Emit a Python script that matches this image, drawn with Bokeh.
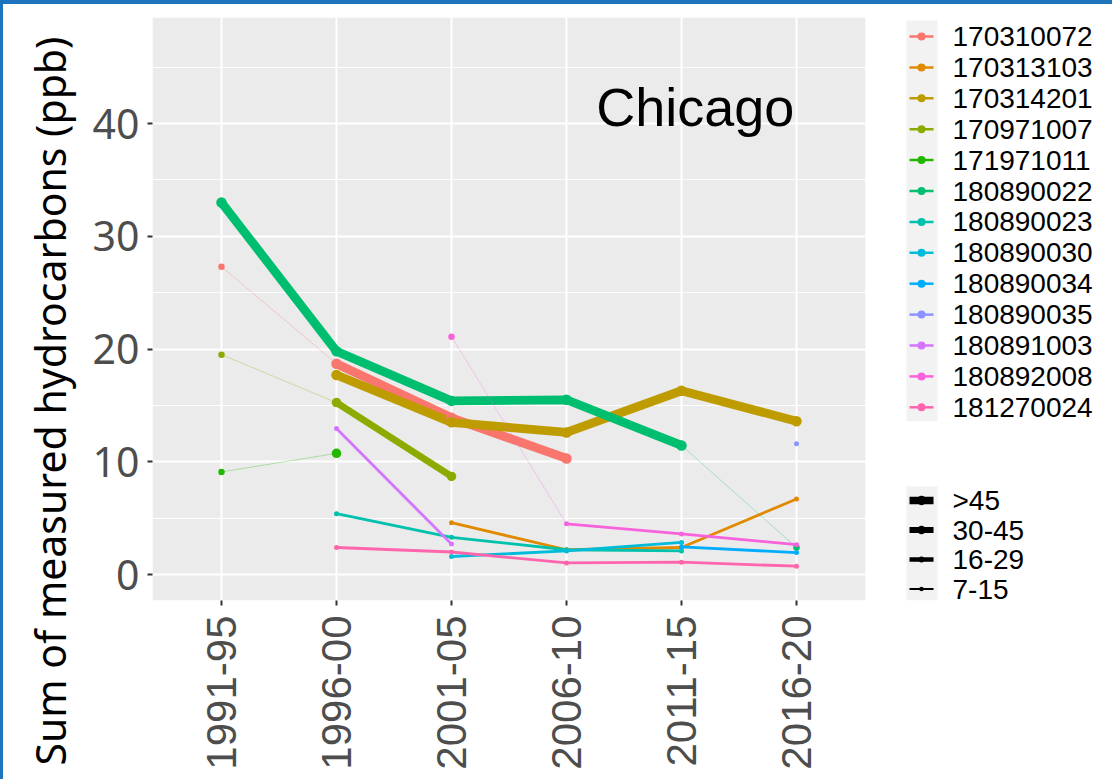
import math
from bokeh.plotting import figure
from bokeh.models import (Range1d, FixedTicker, SingleIntervalTicker,
                          ColumnDataSource, Title)
from bokeh.core.properties import value
from bokeh.embed import file_html
from bokeh.resources import INLINE

nan = float("nan")

# ---- data -------------------------------------------------------------
periods = ["1991-95", "1996-00", "2001-05", "2006-10", "2011-15", "2016-20"]

sites = ["170310072", "170313103", "170314201", "170971007", "171971011",
         "180890022", "180890023", "180890030", "180890034", "180890035",
         "180891003", "180892008", "181270024"]

# sum of measured hydrocarbons (ppb), one value per period
hc_170310072 = [27.3, 18.7, 13.9, 10.3, nan, nan]
hc_170313103 = [nan, nan, 4.6, 2.2, 2.4, 6.7]
hc_170314201 = [nan, 17.7, 13.5, 12.6, 16.3, 13.6]
hc_170971007 = [19.5, 15.25, 8.7, nan, nan, nan]
hc_171971011 = [9.1, 10.75, nan, nan, nan, nan]
hc_180890022 = [33.0, 19.8, 15.4, 15.5, 11.45, 2.4]
hc_180890023 = [nan, 5.4, 3.3, 2.2, 2.1, nan]
hc_180890030 = [nan, nan, 1.6, 2.1, 2.85, nan]
hc_180890034 = [nan, nan, nan, nan, 2.45, 1.95]
hc_180890035 = [nan, nan, nan, nan, nan, 11.6]
hc_180891003 = [nan, 12.95, 2.7, nan, nan, nan]
hc_180892008 = [nan, nan, 21.1, 4.5, 3.6, 2.65]
hc_181270024 = [nan, 2.4, 2.0, 1.03, 1.1, 0.74]

# number of samples per period (binned)
ns_170310072 = ["<7", ">45", ">45", ">45", None, None]
ns_170313103 = [None, None, "7-15", "7-15", "7-15", "7-15"]
ns_170314201 = [None, ">45", ">45", ">45", ">45", ">45"]
ns_170971007 = ["<7", "30-45", "30-45", None, None, None]
ns_171971011 = ["<7", "30-45", None, None, None, None]
ns_180890022 = [">45", ">45", ">45", ">45", ">45", "<7"]
ns_180890023 = [None, "7-15", "7-15", "7-15", "7-15", None]
ns_180890030 = [None, None, "7-15", "7-15", "7-15", None]
ns_180890034 = [None, None, None, None, "7-15", "7-15"]
ns_180890035 = [None, None, None, None, None, "7-15"]
ns_180891003 = [None, "7-15", "7-15", None, None, None]
ns_180892008 = [None, None, "<7", "7-15", "7-15", "7-15"]
ns_181270024 = [None, "7-15", "7-15", "7-15", "7-15", "7-15"]

size_bins = [">45", "30-45", "16-29", "7-15"]

hc = [hc_170310072, hc_170313103, hc_170314201, hc_170971007, hc_171971011,
      hc_180890022, hc_180890023, hc_180890030, hc_180890034, hc_180890035,
      hc_180891003, hc_180892008, hc_181270024]
ns = [ns_170310072, ns_170313103, ns_170314201, ns_170971007, ns_171971011,
      ns_180890022, ns_180890023, ns_180890030, ns_180890034, ns_180890035,
      ns_180891003, ns_180892008, ns_181270024]

# ---- styles -----------------------------------------------------------
colors = ["#F8766D", "#E18A00", "#BE9C00", "#8CAB00", "#24B700", "#00BE70",
          "#00C1AB", "#00BBDA", "#00ACFC", "#8B93FF", "#D575FE", "#F962DD",
          "#FF65AC"]
RANK = {"<7": 0, "7-15": 1, "16-29": 2, "30-45": 3, ">45": 4}
LINE_W = {"<7": 1.0, "7-15": 2.8, "16-29": 4.5, "30-45": 6.8, ">45": 8.8}
LINE_A = {"<7": 0.3, "7-15": 1.0, "16-29": 1.0, "30-45": 1.0, ">45": 1.0}
PT_SIZE = {"<7": 6.5, "7-15": 5.0, "16-29": 6.5, "30-45": 9.5, ">45": 10.5}
KEY_W = {">45": 7.5, "30-45": 5.8, "16-29": 4.4, "7-15": 2.2}

TXT = "Liberation Sans"
BLUE = "#1C75BC"

# page layout (pixels): plotting panel and the legend column to its right
PANEL_L, PANEL_R, PANEL_T, PANEL_B = 152, 865, 17, 600
PAGE_R = 1115
X0, X1 = -0.6, len(periods) - 0.4        # panel x extent (period index)
Y0, Y1 = -2.3, 49.4                       # panel y extent (ppb)
x_end = X0 + (X1 - X0) * (PAGE_R - PANEL_L) / (PANEL_R - PANEL_L)

# ---- figure -----------------------------------------------------------
# the frame runs to the right edge so the legend column can live inside it
p = figure(width=PAGE_R - 3, height=779, x_range=Range1d(X0, x_end),
           y_range=Range1d(Y0, Y1),
           min_border_left=PANEL_L - 3, min_border_right=0,
           min_border_top=PANEL_T - 4, min_border_bottom=783 - PANEL_B,
           toolbar_location=None, output_backend="svg",
           background_fill_color="white", border_fill_color="white",
           outline_line_color=None)
p.styles = {"border-top": f"4px solid {BLUE}",
            "border-left": f"3px solid {BLUE}"}
p.extra_x_ranges = {"px": Range1d(PANEL_L, PAGE_R)}
p.extra_y_ranges = {"px": Range1d(PANEL_B, PANEL_T)}

# grey panel under the grid, white cover over the grid right of the panel
p.quad(left=[X0], right=[X1], bottom=[Y0], top=[Y1], fill_color="#EBEBEB",
       line_color=None, level="image")
p.quad(left=[X1], right=[x_end], bottom=[Y0], top=[Y1], fill_color="white",
       line_color=None)

# connecting lines, grouped into runs of equal sample bin
for k in range(len(sites)):
    ys, bins = hc[k], ns[k]
    runs = []
    for i in range(len(periods) - 1):
        if math.isnan(ys[i]) or math.isnan(ys[i + 1]):
            continue
        b = bins[i] if RANK[bins[i]] <= RANK[bins[i + 1]] else bins[i + 1]
        if runs and runs[-1][0] == b and runs[-1][1][-1] == i:
            runs[-1][1].append(i + 1)
        else:
            runs.append((b, [i, i + 1]))
    if not runs:
        continue
    src = ColumnDataSource(dict(
        xs=[idx for _, idx in runs],
        ys=[[ys[j] for j in idx] for _, idx in runs],
        w=[LINE_W[b] for b, _ in runs],
        a=[LINE_A[b] for b, _ in runs]))
    p.multi_line("xs", "ys", source=src, line_color=colors[k],
                 line_width="w", line_alpha="a", line_join="round")

# points
for k in range(len(sites)):
    xs = [i for i in range(len(periods)) if not math.isnan(hc[k][i])]
    src = ColumnDataSource(dict(
        x=xs, y=[hc[k][i] for i in xs],
        s=[PT_SIZE[ns[k][i]] for i in xs]))
    p.scatter("x", "y", size="s", source=src, color=colors[k],
              line_color=None)

p.text(x=[4.12], y=[41.5], text=["Chicago"], text_align="center",
       text_baseline="alphabetic", text_font=value(TXT),
       text_font_size="54px", text_color="black")

# ---- axes and grid ----------------------------------------------------
p.xaxis.ticker = FixedTicker(ticks=list(range(len(periods))))
p.xaxis.major_label_overrides = {i: lab for i, lab in enumerate(periods)}
p.xaxis.major_label_orientation = math.pi / 2
p.yaxis.ticker = SingleIntervalTicker(interval=10, num_minor_ticks=2)

for ax in (p.xaxis[0], p.yaxis[0]):
    ax.axis_line_color = None
    ax.major_tick_line_color = "#333333"
    ax.major_tick_line_width = 2
    ax.major_tick_in = 0
    ax.major_tick_out = 5
    ax.minor_tick_line_color = None
    ax.major_label_text_color = "#4D4D4D"

p.xaxis.major_label_text_font = TXT
p.xaxis.major_label_text_font_size = "42px"
p.xaxis.major_label_standoff = 10
p.yaxis.major_label_text_font = "Noto Sans"
p.yaxis.major_label_text_font_size = "41px"
p.yaxis.major_label_standoff = 8

p.xgrid.grid_line_color = "white"
p.xgrid.grid_line_width = 2
p.ygrid.grid_line_color = "white"
p.ygrid.grid_line_width = 2
p.ygrid.minor_grid_line_color = "white"
p.ygrid.minor_grid_line_width = 1

# y-axis title, anchored at its start so it can run past the panel
p.add_layout(Title(text="Sum of measured hydrocarbons (ppb)", align="left",
                   offset=-165, standoff=24, text_font="Noto Sans",
                   text_font_size="41px", text_font_style="normal",
                   text_color="black"), "left")

# ---- legend column (page pixel coordinates) ---------------------------
px = dict(x_range_name="px", y_range_name="px")
KEY_L, KEY_R, KEY_C, LAB_X = 906, 937, 921, 952

site_y = [36 + i * 30.9 for i in range(len(sites))]
p.quad(left=[KEY_L], right=[KEY_R], top=[site_y[0] - 16],
       bottom=[site_y[-1] + 14], fill_color="#F2F2F2", line_color=None, **px)
p.segment(x0=[KEY_C - 12] * len(sites), x1=[KEY_C + 12] * len(sites),
          y0=site_y, y1=site_y, line_color=colors, line_width=2.5, **px)
p.scatter(x=[KEY_C] * len(sites), y=site_y, size=8, color=colors,
          line_color=None, **px)
p.text(x=[LAB_X] * len(sites), y=site_y, text=sites, text_baseline="middle",
       text_font=value(TXT), text_font_size="28px", text_color="black", **px)

bin_y = [500 + j * 29.5 for j in range(len(size_bins))]
p.quad(left=[KEY_L], right=[KEY_R], top=[bin_y[0] - 14],
       bottom=[PANEL_B], fill_color="#F2F2F2", line_color=None, **px)
p.segment(x0=[KEY_C - 12] * len(size_bins), x1=[KEY_C + 12] * len(size_bins),
          y0=bin_y, y1=bin_y, line_color="black",
          line_width=[KEY_W[b] for b in size_bins], **px)
p.scatter(x=[KEY_C] * len(size_bins), y=bin_y,
          size=[PT_SIZE[b] * 0.9 for b in size_bins], color="black",
          line_color=None, **px)
p.text(x=[LAB_X] * len(size_bins), y=bin_y, text=size_bins,
       text_baseline="middle", text_font=value(TXT), text_font_size="28px",
       text_color="black", **px)

open("out.html", "w").write(file_html(p, INLINE))
